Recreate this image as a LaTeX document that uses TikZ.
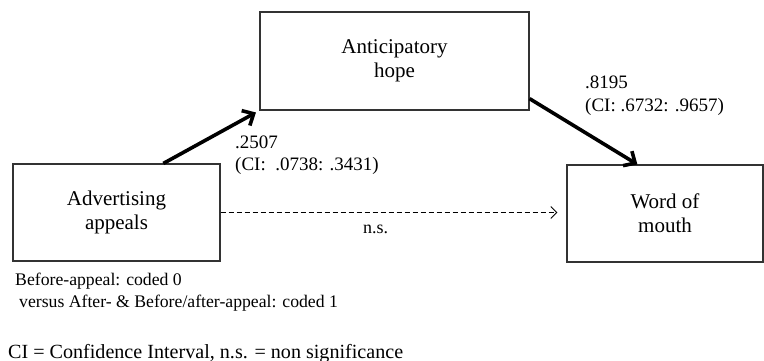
\documentclass[tikz,border=0pt]{standalone}
\usepackage{fontspec}
\setmainfont{Liberation Serif}
\usetikzlibrary{arrows.meta,calc}
\begin{document}
\begin{tikzpicture}[x=1pt,y=-1pt,
  box/.style={draw=black!80,line width=1.1pt,inner sep=0pt,align=center,
    font=\fontsize{21}{24}\selectfont},
  lbl/.style={anchor=base west,inner sep=0pt,align=left,font=\fontsize{19}{23}\selectfont},
  note/.style={anchor=base west,inner sep=0pt,font=\fontsize{17.7}{22}\selectfont},
  thick arrow/.style={line width=3.6pt,-{Straight Barb[length=9pt,width=17pt,line width=3.6pt]}},
  dash arrow/.style={line width=0.9pt,dash pattern=on 5pt off 3pt,-{Straight Barb[length=6pt,width=12pt,line width=0.9pt]}}
]
\useasboundingbox (0,0) rectangle (764,361);
\node[box,minimum width=207pt,minimum height=97pt] (adv) at (116.5,212.5) {Advertising\\appeals};
\node[box,minimum width=269pt,minimum height=98pt] (hope) at (394.5,61) {Anticipatory\\hope};
\node[box,minimum width=196pt,minimum height=97pt] (wom) at (665,213.5) {Word of\\mouth};

\draw[thick arrow,shorten >=4pt] ($(adv.north west)!0.725!(adv.north east)$) -- (hope.south west);
\draw[thick arrow] ($(hope.north east)!0.88!(hope.south east)$) -- ($(wom.north west)!0.36!(wom.north east)$);
\draw[dash arrow,shorten >=9pt] (adv.east) -- (adv.east -| wom.west);

\node[lbl] (l1) at (235,171) {.2507\\(CI:\ \ .0738: .3431)};
\node[lbl] (l2) at (585,111) {.8195\\(CI: .6732: .9657)};
\node[anchor=base west,inner sep=0pt,font=\fontsize{18}{22}\selectfont] (ns) at (363,233) {n.s.};
\node[note] (n1) at (15,285) {Before-appeal: coded 0};
\node[note] (n2) at (19,307) {versus After- \& Before/after-appeal: coded 1};
\node[anchor=base west,inner sep=0pt,font=\fontsize{20.1}{24}\selectfont] (ci) at (8,358) {CI = Confidence Interval, n.s. = non significance};
\end{tikzpicture}
\end{document}
